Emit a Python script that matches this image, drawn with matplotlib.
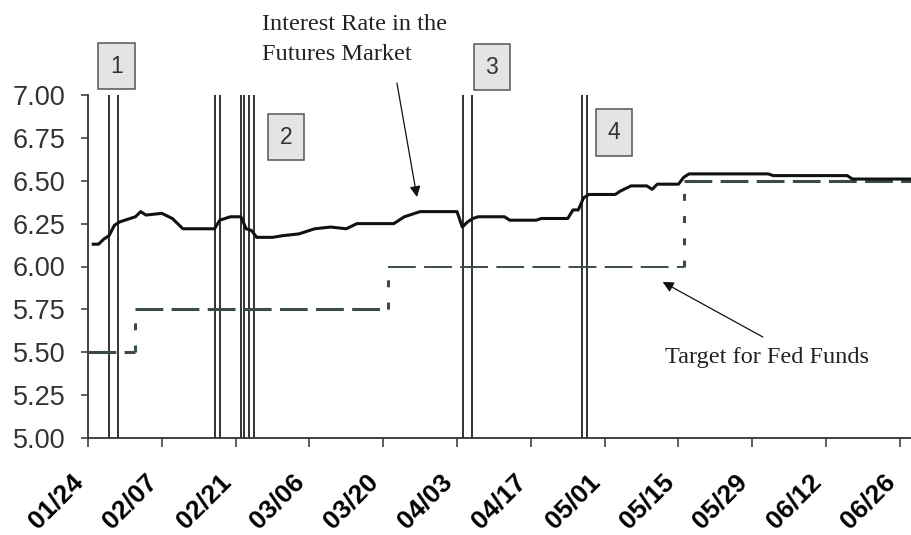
import matplotlib
matplotlib.use("Agg")
import matplotlib.pyplot as plt
import matplotlib.dates as mdates
import matplotlib.transforms as mtransforms
import numpy as np

# futures-market interest rate
fut_dates = ['2000-01-25', '2000-01-26', '2000-01-27', '2000-01-28', '2000-01-29',
             '2000-01-30', '2000-01-31', '2000-02-01', '2000-02-02', '2000-02-03',
             '2000-02-04', '2000-02-07', '2000-02-09', '2000-02-11', '2000-02-17',
             '2000-02-18', '2000-02-20', '2000-02-22', '2000-02-23', '2000-02-24',
             '2000-02-25', '2000-02-28', '2000-03-01', '2000-03-04', '2000-03-06',
             '2000-03-07', '2000-03-10', '2000-03-13', '2000-03-15', '2000-03-22',
             '2000-03-24', '2000-03-27', '2000-04-03', '2000-04-04', '2000-04-05',
             '2000-04-06', '2000-04-07', '2000-04-12', '2000-04-13', '2000-04-18',
             '2000-04-19', '2000-04-24', '2000-04-25', '2000-04-26', '2000-04-27',
             '2000-04-28', '2000-05-03', '2000-05-04', '2000-05-06', '2000-05-09',
             '2000-05-10', '2000-05-11', '2000-05-15', '2000-05-16', '2000-05-17',
             '2000-06-01', '2000-06-02', '2000-06-16', '2000-06-17', '2000-06-28']
fut_rates = [6.13, 6.13, 6.16, 6.18, 6.24, 6.26, 6.27, 6.28, 6.29, 6.32,
             6.30, 6.31, 6.28, 6.22, 6.22, 6.27, 6.29, 6.29, 6.22, 6.21,
             6.17, 6.17, 6.18, 6.19, 6.21, 6.22, 6.23, 6.22, 6.25, 6.25,
             6.29, 6.32, 6.32, 6.23, 6.26, 6.28, 6.29, 6.29, 6.27, 6.27,
             6.28, 6.28, 6.33, 6.33, 6.40, 6.42, 6.42, 6.44, 6.47, 6.47,
             6.45, 6.48, 6.48, 6.52, 6.54, 6.54, 6.53, 6.53, 6.51, 6.51]

# fed funds target: date each level starts
target_dates = ['2000-01-24', '2000-02-02', '2000-03-21', '2000-05-16']
target_levels = [5.50, 5.75, 6.00, 6.50]

# news events (vertical lines)
event_dates = ['2000-01-28 00:00', '2000-01-29 18:00', '2000-02-17 00:00', '2000-02-18 00:00',
               '2000-02-22 00:00', '2000-02-22 14:00', '2000-02-23 12:00', '2000-02-24 12:00',
               '2000-04-04 05:00', '2000-04-05 22:00', '2000-04-26 17:00', '2000-04-27 14:00']

tick_dates = ['2000-01-24', '2000-02-07', '2000-02-21', '2000-03-06', '2000-03-20', '2000-04-03',
              '2000-04-17', '2000-05-01', '2000-05-15', '2000-05-29', '2000-06-12', '2000-06-26']
tick_labels = ['01/24', '02/07', '02/21', '03/06', '03/20', '04/03',
               '04/17', '05/01', '05/15', '05/29', '06/12', '06/26']
yticks = [5.00, 5.25, 5.50, 5.75, 6.00, 6.25, 6.50, 6.75, 7.00]

plt.rcParams['lines.scale_dashes'] = False

t0 = mdates.datestr2num('2000-01-24')
x_end = t0 + 156.3

fig = plt.figure(figsize=(9.12, 5.35), dpi=100)
ax = fig.add_axes([88/912, 1-438/535, 1-88/912, (438-95)/535])

# event lines
ax.vlines(mdates.datestr2num(event_dates), 5, 7, color='#222222', lw=1.3, zorder=2)

# fed funds target steps
tx = list(mdates.datestr2num(target_dates)) + [x_end]
widths = [2.2, 2.2, 1.4, 2.2]
for i in range(len(target_levels)):
    ln, = ax.plot([tx[i], tx[i+1]], [target_levels[i]] * 2, color='#3b4b4b', lw=widths[i],
                  solid_capstyle='butt', zorder=3)
    ln.set_dashes([20, 6])
    if i > 0:
        v, = ax.plot([tx[i], tx[i]], [target_levels[i-1], target_levels[i]], color='#3b4b4b',
                     lw=2.2, zorder=3)
        v.set_dashes([5, 11])

# futures rate
ax.plot(mdates.datestr2num(fut_dates), fut_rates, color='#111111', lw=2.2, zorder=4)

ax.set_xlim(t0, x_end)
ax.set_ylim(5, 7)
ax.set_xticks(mdates.datestr2num(tick_dates))
ax.set_xticklabels(tick_labels, rotation=45, ha='right', fontsize=19, fontweight='bold',
                   family='Liberation Sans')
shift = mtransforms.ScaledTranslation(-5/100, 0, fig.dpi_scale_trans)
for lbl in ax.get_xticklabels():
    lbl.set_transform(lbl.get_transform() + shift)
ax.set_yticks(yticks)
ax.set_yticklabels(['%.2f' % y for y in yticks], fontsize=19.5, family='Liberation Sans',
                   color='#333333')
ax.tick_params(axis='x', length=6.5, width=1.1, color='#333333', pad=16)
ax.tick_params(axis='y', length=5, width=1.1, color='#333333', pad=11)
for s in ['top', 'right']:
    ax.spines[s].set_visible(False)
for s in ['left', 'bottom']:
    ax.spines[s].set_color('#333333')
    ax.spines[s].set_linewidth(1.3)

# numbered event boxes
boxes = [('1', 5.4, 7.169), ('2', 37.6, 6.755), ('3', 76.6, 7.163), ('4', 99.8, 6.78)]
for lab, dx, yv in boxes:
    ax.text(t0 + dx, yv, lab, ha='center', va='center', fontsize=16.5, color='#333333',
            family='Liberation Sans', clip_on=False,
            bbox=dict(boxstyle='square,pad=0.52', fc='#e4e4e4', ec='#555555', lw=1.1))

# annotations
ax.text(t0 + 33.0, 7.47, 'Interest Rate in the\nFutures Market', ha='left', va='top',
        fontsize=17.5, family='Liberation Serif', color='#222222', clip_on=False,
        linespacing=1.55)
ax.annotate('', xy=(t0 + 62.4, 6.405), xytext=(t0 + 58.6, 7.07), annotation_clip=False,
            arrowprops=dict(arrowstyle='-|>', color='#111111', lw=0.9, mutation_scale=16,
                            shrinkA=0, shrinkB=0))
ax.text(t0 + 109.4, 5.53, 'Target for Fed Funds', ha='left', va='top',
        fontsize=17.5, family='Liberation Serif', color='#222222')
ax.annotate('', xy=(t0 + 109.0, 5.91), xytext=(t0 + 128.0, 5.589),
            arrowprops=dict(arrowstyle='-|>', color='#111111', lw=0.9, mutation_scale=16,
                            shrinkA=0, shrinkB=0))

fig.savefig('out.png', dpi=100)
